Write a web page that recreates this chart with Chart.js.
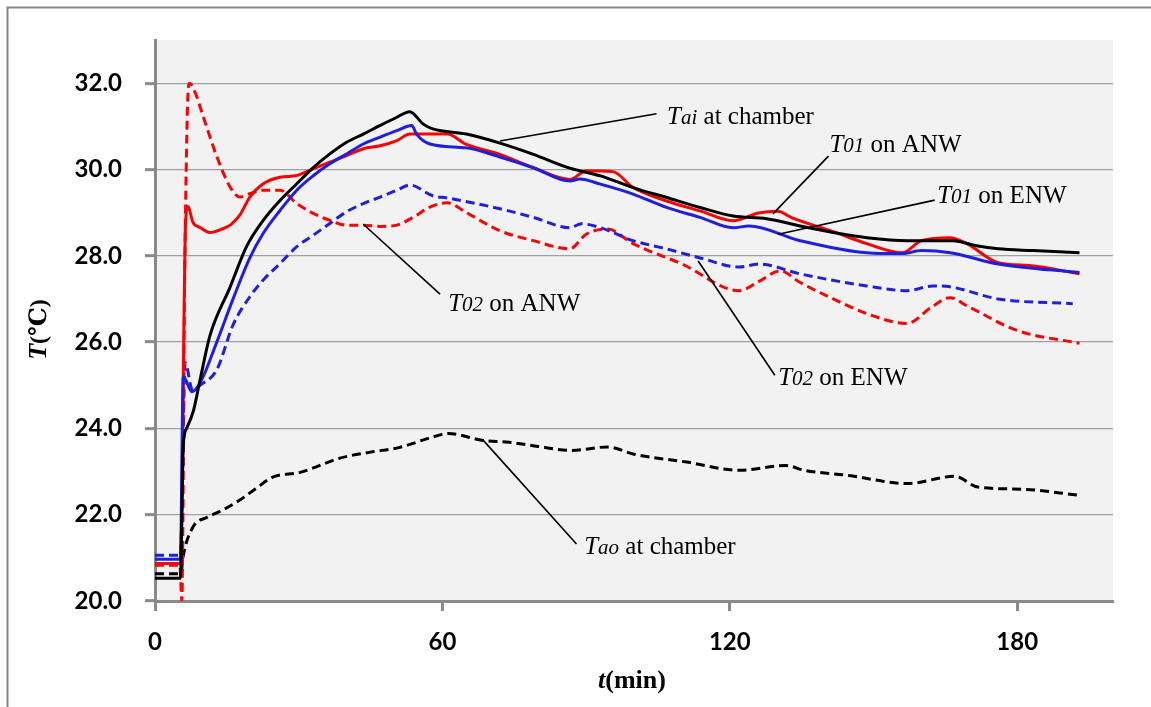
<!DOCTYPE html>
<html>
<head>
<meta charset="utf-8">
<script src="https://cdn.jsdelivr.net/npm/chart.js@4.4.1/dist/chart.umd.min.js"></script>
<style>
    html, body { margin: 0; padding: 0; background: #fff; overflow: hidden; }
    #wrap { width: 1151px; height: 707px; }
</style>
</head>
<body>
<div id="wrap"><canvas id="tempChart" width="1151" height="707"></canvas></div>
<script>
// time (min) and temperature (degC)
const taiTime = [0, 5.3, 5.9, 6.6, 8.0, 9.4, 11.5, 15.7, 19.1, 22.6, 26.1, 29.6, 33.1, 36.5, 40.0, 43.5, 47.0, 50.5, 53.2, 56.0,
    58.0, 65.0, 72.0, 79.0, 86.6, 93.0, 99.8, 106.8, 113.8, 120.7, 127.7, 134.7, 141.6, 148.6, 157.0, 166.6, 171.5, 176.0, 183.4, 193.0];
const taiTemp = [20.53, 20.53, 23.6, 24.0, 24.4, 25.12, 26.16, 27.28, 28.21, 28.82, 29.28, 29.67, 30.05, 30.36, 30.63, 30.82, 31.02, 31.21, 31.34, 31.05,
    30.94, 30.82, 30.61, 30.35, 30.03, 29.85, 29.58, 29.35, 29.12, 28.92, 28.86, 28.69, 28.54, 28.42, 28.35, 28.35, 28.23, 28.16, 28.12, 28.07];

const taoTime = [0, 5.4, 5.85, 7.9, 10.9, 14.0, 17.7, 21.0, 24.6, 30.3, 38.6, 45.0, 51.1, 58.0, 61.2, 68.5, 73.9, 80.0, 87.0, 94.5,
    100.0, 111.0, 122.0, 131.7, 135.5, 144.8, 157.0, 167.0, 171.8, 181.0, 193.0];
const taoTemp = [20.63, 20.63, 21.02, 21.71, 21.94, 22.1, 22.34, 22.6, 22.87, 22.98, 23.31, 23.45, 23.56, 23.8, 23.88, 23.72, 23.68, 23.58, 23.49, 23.57,
    23.4, 23.22, 23.03, 23.14, 23.03, 22.91, 22.72, 22.89, 22.64, 22.59, 22.45];

const anw01Time = [0, 5.3, 6.4, 6.9, 7.9, 9.5, 11.5, 14.0, 15.7, 17.7, 19.8, 22.6, 26.1, 29.6, 33.1, 36.5, 40.0, 43.5, 47.0, 50.5,
    53.2, 57.4, 61.0, 65.0, 72.0, 79.0, 86.6, 90.1, 95.6, 99.8, 106.8, 113.8, 120.7, 126.0, 130.0, 133.0, 141.6, 148.6, 156.0, 160.0,
    166.0, 169.5, 176.0, 183.0, 193.0];
const anw01Temp = [20.87, 20.87, 28.8, 29.14, 28.78, 28.65, 28.54, 28.62, 28.71, 28.94, 29.36, 29.67, 29.82, 29.86, 30.02, 30.17, 30.32, 30.48, 30.55, 30.67,
    30.82, 30.82, 30.82, 30.58, 30.35, 30.04, 29.77, 29.97, 29.95, 29.58, 29.27, 29.04, 28.81, 28.99, 29.03, 28.88, 28.56, 28.28, 28.07, 28.35,
    28.42, 28.28, 27.84, 27.77, 27.58];

const anw02Time = [0, 5.2, 5.6, 6.2, 6.8, 7.2, 8.5, 10.0, 12.9, 15.7, 17.7, 19.8, 22.6, 26.1, 29.6, 33.1, 36.5, 40.0, 43.5, 47.0,
    50.5, 54.0, 57.4, 61.0, 65.0, 72.0, 79.0, 86.6, 90.0, 94.5, 99.8, 110.0, 122.0, 126.0, 130.5, 134.7, 141.6, 148.6, 157.0, 162.0,
    166.0, 169.5, 180.0, 193.0];
const anw02Temp = [20.83, 20.83, 20.0, 27.5, 31.5, 32.0, 31.75, 31.25, 30.3, 29.59, 29.36, 29.44, 29.52, 29.52, 29.21, 28.98, 28.82, 28.71, 28.71, 28.68,
    28.71, 28.9, 29.13, 29.23, 29.0, 28.58, 28.35, 28.16, 28.5, 28.62, 28.28, 27.81, 27.19, 27.4, 27.65, 27.38, 27.0, 26.66, 26.43, 26.8,
    27.03, 26.84, 26.27, 25.97];

const enw01Time = [0, 5.3, 5.9, 7.7, 9.4, 12.9, 16.3, 19.8, 22.6, 26.1, 29.6, 33.1, 36.5, 40.0, 43.5, 47.0, 50.5, 53.6, 54.6, 57.4,
    65.0, 72.0, 79.0, 86.6, 88.7, 93.0, 99.8, 106.8, 113.8, 120.7, 124.0, 134.7, 148.6, 156.0, 160.0, 166.0, 176.0, 193.0];
const enw01Temp = [20.97, 20.97, 25.2, 24.85, 25.05, 26.0, 27.0, 27.95, 28.52, 29.05, 29.52, 29.86, 30.13, 30.36, 30.59, 30.75, 30.9, 31.02, 30.82, 30.59,
    30.5, 30.29, 30.04, 29.73, 29.78, 29.66, 29.43, 29.12, 28.89, 28.65, 28.69, 28.35, 28.07, 28.05, 28.12, 28.07, 27.81, 27.61];

const enw02Time = [0, 5.3, 6.3, 7.8, 9.4, 12.9, 16.3, 19.8, 22.6, 26.1, 29.6, 33.1, 36.5, 40.0, 43.5, 47.0, 50.5, 53.2, 58.0, 61.0,
    72.0, 79.0, 86.6, 89.0, 93.0, 99.8, 106.8, 113.8, 122.0, 126.0, 134.7, 148.6, 157.0, 162.4, 166.0, 176.0, 191.6];
const enw02Temp = [21.06, 21.06, 25.52, 24.9, 25.0, 25.36, 26.4, 27.05, 27.44, 27.82, 28.21, 28.48, 28.75, 29.02, 29.21, 29.36, 29.52, 29.64, 29.39, 29.34,
    29.09, 28.89, 28.65, 28.74, 28.65, 28.35, 28.16, 27.95, 27.74, 27.81, 27.58, 27.3, 27.19, 27.3, 27.28, 27.0, 26.89];

const xTicks = [0, 60, 120, 180];
const yTicks = [20, 22, 24, 26, 28, 30, 32];

// callout labels: leader line start/end and text anchor, in data units
const callouts = [
    { from: [72.0, 30.66], to: [104.7, 31.29], at: [106.9, 31.06], sym: 'T', sub: 'ai', rest: ' at chamber' },
    { from: [129.0, 28.97], to: [140.6, 30.31], at: [140.8, 30.41], sym: 'T', sub: '01', rest: ' on ANW' },
    { from: [130.1, 28.5], to: [162.8, 29.29], at: [163.3, 29.23], sym: 'T', sub: '01', rest: ' on ENW' },
    { from: [43.5, 28.73], to: [59.5, 27.11], at: [61.2, 26.71], sym: 'T', sub: '02', rest: ' on ANW' },
    { from: [113.4, 27.88], to: [129.4, 25.23], at: [130.1, 25.0], sym: 'T', sub: '02', rest: ' on ENW' },
    { from: [68.4, 23.74], to: [88.0, 21.32], at: [89.6, 21.09], sym: 'T', sub: 'ao', rest: ' at chamber' }
];

function toPoints(times, temps) {
    return times.map(function (t, i) { return { x: t, y: temps[i] }; });
}

function series(label, times, temps, color, dashed) {
    return {
        label: label,
        data: toPoints(times, temps),
        borderColor: color,
        borderWidth: 3,
        borderDash: dashed ? [9, 5] : [],
        pointRadius: 0,
        fill: false,
        cubicInterpolationMode: 'monotone'
    };
}

const serif = '"Liberation Serif", "Times New Roman", "DejaVu Serif", serif';

const decorPlugin = {
    id: 'decor',
    beforeDraw: function (chart) {
        const ctx = chart.ctx;
        const a = chart.chartArea;
        ctx.save();
        ctx.fillStyle = '#f2f2f2';
        ctx.fillRect(a.left, a.top, a.right - a.left, a.bottom - a.top);
        // outer frame (only left/top edges are inside the picture)
        ctx.strokeStyle = '#858585';
        ctx.lineWidth = 2;
        ctx.beginPath();
        ctx.moveTo(7.5, chart.height);
        ctx.lineTo(7.5, 7.5);
        ctx.lineTo(chart.width, 7.5);
        ctx.stroke();
        ctx.restore();
    },
    afterDraw: function (chart) {
        const ctx = chart.ctx;
        const a = chart.chartArea;
        const xs = chart.scales.x;
        const ys = chart.scales.y;
        ctx.save();

        callouts.forEach(function (c) {
            ctx.strokeStyle = '#000';
            ctx.lineWidth = 1.6;
            ctx.beginPath();
            ctx.moveTo(xs.getPixelForValue(c.from[0]), ys.getPixelForValue(c.from[1]));
            ctx.lineTo(xs.getPixelForValue(c.to[0]), ys.getPixelForValue(c.to[1]));
            ctx.stroke();

            let x = xs.getPixelForValue(c.at[0]);
            const y = ys.getPixelForValue(c.at[1]);
            ctx.fillStyle = '#000';
            ctx.textBaseline = 'alphabetic';
            ctx.textAlign = 'left';
            ctx.font = 'italic 25px ' + serif;
            ctx.fillText(c.sym, x, y);
            x += ctx.measureText(c.sym).width;
            ctx.font = 'italic 21px ' + serif;
            ctx.fillText(c.sub, x, y);
            x += ctx.measureText(c.sub).width;
            ctx.font = '25px ' + serif;
            ctx.fillText(c.rest, x, y);
        });

        // x axis title: t(min)
        ctx.textBaseline = 'alphabetic';
        ctx.textAlign = 'left';
        ctx.font = 'italic bold 26px ' + serif;
        const w1 = ctx.measureText('t').width;
        ctx.font = 'bold 26px ' + serif;
        const w2 = ctx.measureText('(min)').width;
        let tx = (a.left + a.right) / 2 - 2 - (w1 + w2) / 2;
        const ty = a.bottom + 87;
        ctx.font = 'italic bold 26px ' + serif;
        ctx.fillText('t', tx, ty);
        ctx.font = 'bold 26px ' + serif;
        ctx.fillText('(min)', tx + w1, ty);

        // y axis title: T(℃), rotated
        ctx.translate(46, (a.top + a.bottom) / 2 + 9);
        ctx.rotate(-Math.PI / 2);
        ctx.font = 'italic bold 26px ' + serif;
        const v1 = ctx.measureText('T').width;
        ctx.font = 'bold 24px ' + serif;
        const v2 = ctx.measureText('(℃)').width;
        const vx = -(v1 + v2) / 2;
        ctx.font = 'italic bold 26px ' + serif;
        ctx.fillText('T', vx, 0);
        ctx.font = 'bold 24px ' + serif;
        ctx.fillText('(℃)', vx + v1, 0);

        ctx.restore();
    }
};

const tickFont = { family: 'Lato, "Open Sans", sans-serif', size: 24, weight: 'bold' };

new Chart(document.getElementById('tempChart'), {
    type: 'line',
    data: {
        datasets: [
            series('Tai at chamber', taiTime, taiTemp, '#000000', false),
            series('T01 on ENW', enw01Time, enw01Temp, '#1f1fe0', false),
            series('T01 on ANW', anw01Time, anw01Temp, '#ff0000', false),
            series('T02 on ENW', enw02Time, enw02Temp, '#1f1fe0', true),
            series('T02 on ANW', anw02Time, anw02Temp, '#ff0000', true),
            series('Tao at chamber', taoTime, taoTemp, '#000000', true)
        ]
    },
    options: {
        responsive: false,
        animation: false,
        devicePixelRatio: 1,
        layout: {
            padding: { left: 0, top: 40, right: 38, bottom: 0 }
        },
        plugins: {
            legend: { display: false },
            tooltip: { enabled: false }
        },
        scales: {
            x: {
                type: 'linear',
                min: 0,
                max: 200,
                afterFit: function (scale) { scale.height = 106; },
                afterBuildTicks: function (scale) {
                    scale.ticks = xTicks.map(function (v) { return { value: v }; });
                },
                ticks: {
                    font: tickFont,
                    color: '#000',
                    padding: 17,
                    maxRotation: 0,
                    callback: function (v) { return String(v); }
                },
                grid: {
                    drawOnChartArea: false,
                    drawTicks: true,
                    tickLength: 10,
                    tickColor: '#8a8a8a',
                    tickWidth: 3
                },
                border: { display: true, color: '#8a8a8a', width: 3 }
            },
            y: {
                type: 'linear',
                min: 20,
                max: 33,
                afterFit: function (scale) { scale.width = 155; },
                afterBuildTicks: function (scale) {
                    scale.ticks = yTicks.map(function (v) { return { value: v }; });
                },
                ticks: {
                    font: tickFont,
                    color: '#000',
                    padding: 23,
                    callback: function (v) { return Number(v).toFixed(1); }
                },
                grid: {
                    color: '#a0a0a0',
                    lineWidth: 1.3,
                    drawTicks: true,
                    tickLength: 10,
                    tickColor: '#8a8a8a',
                    tickWidth: 3
                },
                border: { display: true, color: '#8a8a8a', width: 3 }
            }
        }
    },
    plugins: [decorPlugin]
});
</script>
</body>
</html>
